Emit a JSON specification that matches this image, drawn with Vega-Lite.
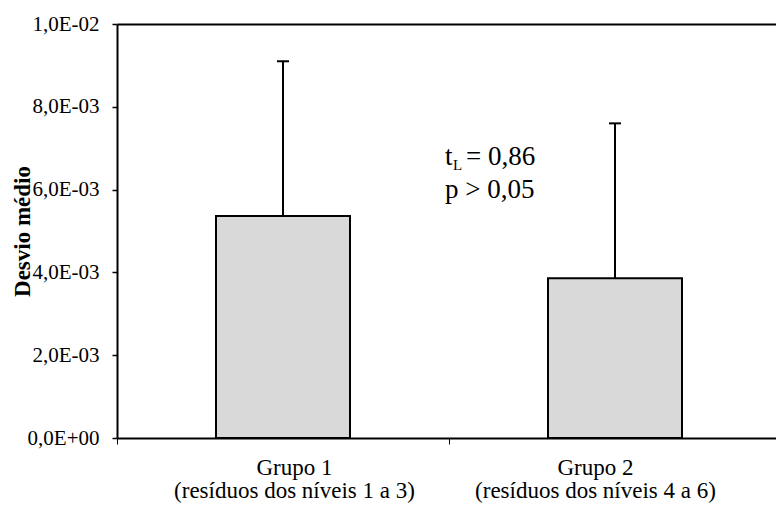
{
  "$schema": "https://vega.github.io/schema/vega-lite/v6.json",
  "width": 659,
  "height": 414,
  "autosize": {"type": "none"},
  "padding": {"left": 117, "top": 24, "right": 0, "bottom": 82},
  "background": "white",
  "config": {
    "font": "Liberation Serif",
    "view": {"stroke": null},
    "axis": {"labelColor": "black", "titleColor": "black", "domainColor": "black", "tickColor": "black", "grid": false}
  },
  "layer": [
    {
      "data": {
        "values": [
          {"grupo": "Grupo 1|(resíduos dos níveis 1 a 3)", "media": 0.00536, "limite": 0.0091},
          {"grupo": "Grupo 2|(resíduos dos níveis 4 a 6)", "media": 0.00386, "limite": 0.0076}
        ]
      },
      "encoding": {
        "x": {
          "field": "grupo",
          "type": "nominal",
          "sort": null,
          "scale": {"type": "band", "range": [0, 664], "paddingInner": 0, "paddingOuter": 0},
          "axis": {
            "title": null,
            "labelAngle": 0,
            "labelExpr": "isValid(datum.value) ? split(datum.value, '|') : ''",
            "labelFontSize": 23,
            "labelLineHeight": 23,
            "labelLimit": 0,
            "labelPadding": 12,
            "labelOffset": {"condition": {"test": "isValid(datum.value) && indexof(datum.value, 'Grupo 2') >= 0", "value": -20}, "value": 11},
            "tickBand": "extent",
            "tickSize": 6,
            "tickWidth": 1,
            "domainWidth": 2
          }
        }
      },
      "layer": [
        {
          "mark": {"type": "bar", "size": 134, "fill": "#d9d9d9", "stroke": "black", "strokeWidth": 2},
          "encoding": {
            "y": {
              "field": "media",
              "type": "quantitative",
              "scale": {"domain": [0, 0.01], "nice": false, "zero": true},
              "axis": {
                "title": "Desvio médio",
                "titleFontSize": 23,
                "titleFontWeight": "bold",
                "titleX": -88,
                "titleY": 207,
                "titleAlign": "center",
                "titleBaseline": "alphabetic",
                "titleAngle": 270,
                "values": [0, 0.002, 0.004, 0.006, 0.008, 0.01],
                "labelExpr": "datum.value == 0 ? '0,0E+00' : (datum.value >= 0.0099 ? '1,0E-02' : format(datum.value * 1000, '.0f') + ',0E-03')",
                "labelFontSize": 21,
                "labelPadding": 13,
                "tickSize": 5,
                "tickWidth": 1.5,
                "domainWidth": 2,
                "grid": true,
                "gridWidth": 2,
                "gridColor": {"condition": {"test": "datum.value >= 0.0099", "value": "black"}, "value": "transparent"}
              }
            }
          }
        },
        {
          "mark": {"type": "rule", "stroke": "black", "strokeWidth": 2},
          "encoding": {
            "y": {"field": "media", "type": "quantitative"},
            "y2": {"field": "limite"}
          }
        },
        {
          "mark": {"type": "tick", "size": 12, "thickness": 2, "color": "black", "opacity": 1},
          "encoding": {
            "y": {"field": "limite", "type": "quantitative"}
          }
        }
      ]
    },
    {
      "data": {"values": [{"grupo": "Grupo 2|(resíduos dos níveis 4 a 6)"}]},
      "encoding": {"x": {"field": "grupo", "type": "nominal"}},
      "layer": [
        {
          "mark": {"type": "text", "text": "t", "fontSize": 27, "align": "left", "baseline": "middle", "dx": -170, "color": "black"},
          "encoding": {"y": {"datum": 0.00679, "type": "quantitative"}}
        },
        {
          "mark": {"type": "text", "text": "L", "fontSize": 15, "align": "left", "baseline": "middle", "dx": -162, "dy": 8, "color": "black"},
          "encoding": {"y": {"datum": 0.00679, "type": "quantitative"}}
        },
        {
          "mark": {"type": "text", "text": "= 0,86", "fontSize": 27, "align": "left", "baseline": "middle", "dx": -149, "color": "black"},
          "encoding": {"y": {"datum": 0.00679, "type": "quantitative"}}
        },
        {
          "mark": {"type": "text", "text": "p > 0,05", "fontSize": 27, "align": "left", "baseline": "middle", "dx": -170, "color": "black"},
          "encoding": {"y": {"datum": 0.00599, "type": "quantitative"}}
        }
      ]
    }
  ]
}
